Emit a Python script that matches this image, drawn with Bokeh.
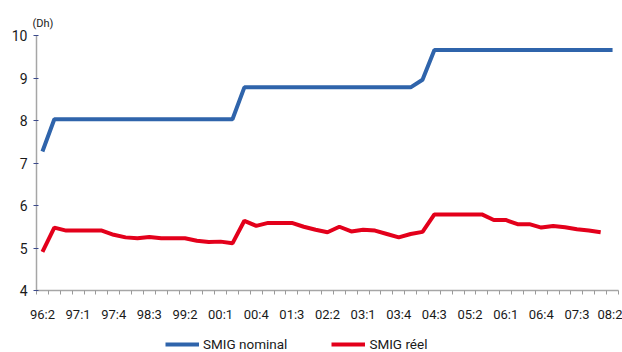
from bokeh.plotting import figure
from bokeh.models import FixedTicker, Legend, LegendItem, Range1d, ColumnDataSource, Label
from bokeh.embed import file_html
from bokeh.resources import INLINE

# Quarters 96:2 .. 08:2
quarters = []
y, q = 96, 2
for _ in range(49):
    quarters.append(f"{y % 100:02d}:{q}")
    q += 1
    if q > 4:
        q = 1
        y += 1

smig_nominal = [7.27] + [8.03] * 16 + [8.78] * 15 + [8.96] + [9.66] * 16
smig_reel = [4.91, 5.48, 5.41, 5.41, 5.41, 5.41, 5.31, 5.25, 5.23, 5.26,
             5.23, 5.23, 5.23, 5.17, 5.14, 5.15, 5.11, 5.64, 5.52, 5.59,
             5.59, 5.59, 5.50, 5.43, 5.37, 5.50, 5.39, 5.43, 5.41, 5.33,
             5.25, 5.33, 5.38, 5.79, 5.79, 5.79, 5.79, 5.79, 5.66, 5.66,
             5.56, 5.56, 5.48, 5.52, 5.49, 5.44, 5.41, 5.37]
y_ticks = [4, 5, 6, 7, 8, 9, 10]

FONT = "Roboto"
BLUE = "#2F64AB"
RED = "#E3001B"

idx = list(range(len(quarters)))
src_nom = ColumnDataSource(dict(x=idx, y=smig_nominal))
src_reel = ColumnDataSource(dict(x=idx[:len(smig_reel)], y=smig_reel))

# The frame fills the whole canvas; axes sit at fixed data positions
# so that their labels stay inside the frame.
px_per_y = 255 / 6.0          # y: 10 at 35 px, 4 at 290 px
y_bottom = 4 - 62 / px_per_y
y_top = 10 + 35 / px_per_y
x_unit = 49 / 582.0           # x: -0.5 at 36 px, 48.5 at 618 px
x_left = -0.5 - 36 * x_unit
x_right = 48.5 + 4 * x_unit

p = figure(width=622, height=352, output_backend="svg", toolbar_location=None,
           x_range=Range1d(x_left, x_right), y_range=Range1d(y_bottom, y_top),
           min_border_left=0, min_border_right=0, min_border_top=0, min_border_bottom=0)
p.outline_line_color = None
p.xgrid.visible = False
p.ygrid.visible = False
p.background_fill_color = "white"
p.border_fill_color = "white"

r1 = p.line("x", "y", source=src_nom, line_color=BLUE, line_width=4)
r2 = p.line("x", "y", source=src_reel, line_color=RED, line_width=4)

# unit label
p.add_layout(Label(x=-0.5, y=10, text="(Dh)", x_offset=-4, y_offset=6,
                   text_font=FONT, text_font_size="11px", text_color="#1a1a1a",
                   text_align="left", text_baseline="bottom"))

# x axis
label_pos = list(range(0, 49, 3))
p.xaxis.fixed_location = 4
p.xaxis.bounds = (-0.5, 48.5)
p.xaxis.ticker = FixedTicker(ticks=label_pos, minor_ticks=[i - 0.5 for i in range(50)])
p.xaxis.major_label_overrides = {i: quarters[i] for i in label_pos}
p.xaxis.major_tick_in = 0
p.xaxis.major_tick_out = 0
p.xaxis.minor_tick_in = 0
p.xaxis.minor_tick_out = 4
p.xaxis.minor_tick_line_color = "#9a9a9a"
p.xaxis.axis_line_color = "#a6a6a6"
p.xaxis.axis_line_width = 1.5
p.xaxis.major_label_standoff = 12
p.xaxis.major_label_text_font = FONT
p.xaxis.major_label_text_font_size = "13px"
p.xaxis.major_label_text_color = "#1a1a1a"

# y axis
p.yaxis.fixed_location = -0.5
p.yaxis.ticker = FixedTicker(ticks=y_ticks)
p.yaxis.bounds = (4, 10)
p.yaxis.minor_tick_line_color = None
p.yaxis.major_tick_in = 2
p.yaxis.major_tick_out = 3
p.yaxis.major_tick_line_color = "#3b4a8c"
p.yaxis.axis_line_color = "#a6a6a6"
p.yaxis.axis_line_width = 1.5
p.yaxis.major_label_standoff = 6
p.yaxis.major_label_text_font = FONT
p.yaxis.major_label_text_font_size = "14px"
p.yaxis.major_label_text_color = "#1a1a1a"

legend = Legend(items=[LegendItem(label="SMIG nominal", renderers=[r1]),
                       LegendItem(label="SMIG réel", renderers=[r2])],
                orientation="horizontal", location=(165, 0),
                glyph_width=34, glyph_height=14, label_height=14,
                label_standoff=4, spacing=44,
                padding=0, margin=0, border_line_color=None, background_fill_alpha=0,
                label_text_font=FONT, label_text_font_size="13.5px", label_text_color="#1a1a1a")
p.add_layout(legend)

open("out.html", "w").write(file_html(p, INLINE))
